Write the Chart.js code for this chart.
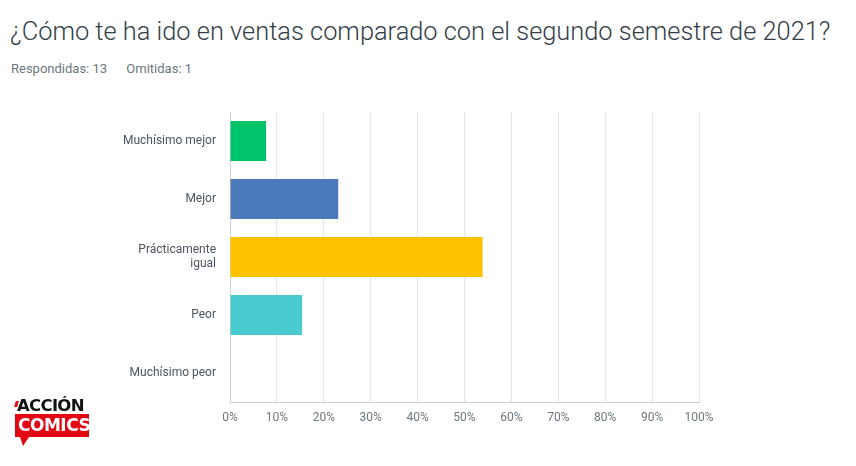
<!DOCTYPE html>
<html>
<head>
<meta charset="utf-8">
<script src="https://cdn.jsdelivr.net/npm/chart.js@4"></script>
<style>
  body { margin: 0; background: #fff; }
  #wrap { position: relative; width: 856px; height: 466px; overflow: hidden; }
  #title { position: absolute; left: 10px; top: 16px; font-family: Roboto, sans-serif; font-weight: 300; font-size: 25.4px; color: #333e48; white-space: nowrap; }
  #sub { position: absolute; left: 11px; top: 61px; font-family: Roboto, sans-serif; font-size: 13px; color: #6b787f; white-space: nowrap; }
  #sub span { margin-right: 16px; }
  canvas { position: absolute; left: 0; top: 0; }
  #logo { position: absolute; left: 15px; top: 398px; width: 74px; font-family: "DejaVu Sans", sans-serif; font-weight: bold; }
  #logo .a { font-size: 16.5px; line-height: 16px; color: #111; letter-spacing: -0.7px; padding-left: 2px; position: relative; }
  #logo .a:before { content: ""; position: absolute; left: 0; top: 3px; width: 3px; height: 6px; background: #e30613; transform: skewX(-15deg); }
  #logo .c { background: #e30613; color: #fff; font-size: 17px; line-height: 23px; height: 23px; padding-left: 3px; letter-spacing: -0.5px; }
  #logo .t { width: 0; height: 0; border-left: 3px solid transparent; border-right: 6px solid transparent; border-top: 9px solid #e30613; margin-left: 5px; }
</style>
</head>
<body>
<div id="wrap">
  <div id="title">¿Cómo te ha ido en ventas comparado con el segundo semestre de 2021?</div>
  <div id="sub"><span>Respondidas: 13</span> <span>Omitidas: 1</span></div>
  <canvas id="surveyChart" width="856" height="466"></canvas>
  <div id="logo">
    <div class="a">ACCIÓN</div>
    <div class="c">COMICS</div>
    <div class="t"></div>
  </div>
</div>
<script>
const categories = ["Muchísimo mejor", "Mejor", ["Prácticamente", "igual"], "Peor", "Muchísimo peor"];
const percentages = [7.69, 23.08, 53.85, 15.38, 0];
const barColors = ["#00c46c", "#4a79bc", "#ffc100", "#4acbd0", "#9b9b9b"];
const tickValues = [0, 10, 20, 30, 40, 50, 60, 70, 80, 90, 100];

const ctx = document.getElementById("surveyChart").getContext("2d");

new Chart(ctx, {
    type: "bar",
    data: {
        labels: categories,
        datasets: [{
            data: percentages,
            backgroundColor: barColors,
            barPercentage: 0.69,
            categoryPercentage: 1
        }]
    },
    options: {
        indexAxis: "y",
        responsive: false,
        animation: false,
        layout: { padding: { top: 112, left: 0, right: 157, bottom: 31.5 } },
        plugins: { legend: { display: false }, tooltip: { enabled: false } },
        scales: {
            x: {
                min: 0,
                max: 100,
                afterBuildTicks: (scale) => { scale.ticks = tickValues.map(v => ({ value: v })); },
                ticks: {
                    callback: (v) => v + "%",
                    color: "#6b787f",
                    font: { family: "Roboto, sans-serif", size: 12 },
                    padding: 9,
                    maxRotation: 0
                },
                grid: { color: "#e6e6e6", drawTicks: false },
                border: { color: "#cfcfcf" }
            },
            y: {
                afterFit: (scale) => { scale.width = 230; },
                ticks: {
                    color: "#4a5560",
                    font: { family: "Roboto, sans-serif", size: 12 },
                    padding: 14
                },
                grid: { display: false, drawTicks: false },
                border: { color: "#cfcfcf" }
            }
        }
    }
});
</script>
</body>
</html>
